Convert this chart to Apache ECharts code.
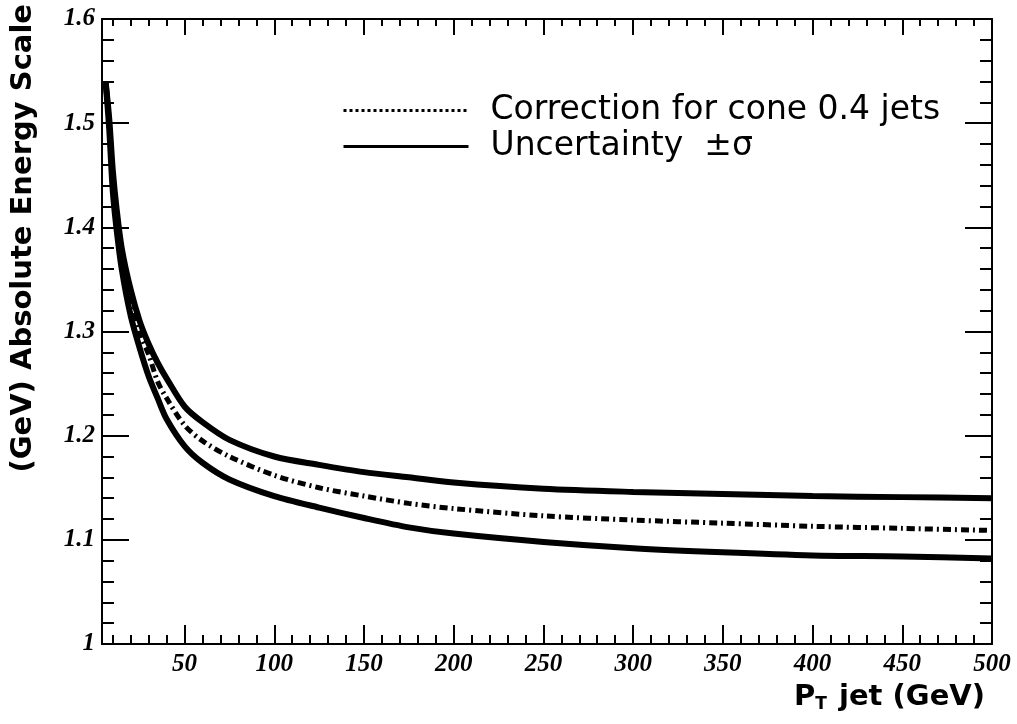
<!DOCTYPE html>
<html>
<head>
<meta charset="utf-8">
<script src="https://cdn.jsdelivr.net/npm/echarts@6/dist/echarts.min.js"></script>
<style>
html,body{margin:0;padding:0;background:#fff;}
#chart{width:1017px;height:724px;}
</style>
</head>
<body>
<div id="chart"></div>
<script>
// ---- data ----
const ptValues = [6, 8, 10, 12, 15, 20, 25, 30, 35, 40, 50, 60, 75, 100, 125, 150, 175, 200, 250, 300, 350, 400, 450, 500];
const upperValues = [1.540, 1.505, 1.455, 1.420, 1.380, 1.340, 1.310, 1.288, 1.270, 1.255, 1.228, 1.213, 1.196, 1.180, 1.172, 1.165, 1.160, 1.155, 1.149, 1.146, 1.144, 1.142, 1.141, 1.140];
const correctionValues = [1.540, 1.500, 1.445, 1.410, 1.370, 1.325, 1.298, 1.278, 1.252, 1.236, 1.210, 1.195, 1.180, 1.162, 1.150, 1.142, 1.135, 1.130, 1.123, 1.119, 1.116, 1.113, 1.111, 1.109];
const lowerValues = [1.540, 1.495, 1.435, 1.400, 1.360, 1.315, 1.284, 1.257, 1.236, 1.216, 1.190, 1.174, 1.158, 1.142, 1.131, 1.121, 1.112, 1.106, 1.098, 1.092, 1.088, 1.085, 1.084, 1.082];
const xMajorTicks = [50, 100, 150, 200, 250, 300, 350, 400, 450, 500];
const xMinorTicks = [10, 20, 30, 40, 60, 70, 80, 90, 110, 120, 130, 140, 160, 170, 180, 190, 210, 220, 230, 240, 260, 270, 280, 290, 310, 320, 330, 340, 360, 370, 380, 390, 410, 420, 430, 440, 460, 470, 480, 490];
const correctionName = 'Correction for cone 0.4 jets';
const uncertaintyName = 'Uncertainty  \u00b1\u03c3';

const zip = (xs, ys) => xs.map((x, i) => [x, ys[i]]);

const chart = echarts.init(document.getElementById('chart'), null, {renderer: 'canvas'});
const black = '#000';
const labelFont = {fontFamily: '"Liberation Serif", serif', fontStyle: 'italic', fontWeight: 'bold', fontSize: 25, color: black};
const titleFamily = '"DejaVu Sans", "Liberation Sans", sans-serif';
const hidden = {color: 'rgba(0,0,0,0)', borderWidth: 0, opacity: 0};

function xAxisDef(pos, ticks, len, showLine, showLabel) {
  return {
    type: 'value', gridIndex: 0, position: pos, min: 4, max: 500,
    axisLine: {show: showLine, onZero: false, lineStyle: {color: black, width: 2}},
    axisTick: {show: true, inside: true, length: len, customValues: ticks, lineStyle: {color: black, width: 2}},
    axisLabel: showLabel ? Object.assign({show: true, customValues: ticks, margin: 8}, labelFont) : {show: false},
    splitLine: {show: false}
  };
}
function yAxisDef(pos, showLabel) {
  return {
    type: 'value', gridIndex: 0, position: pos, min: 1, max: 1.6, interval: 0.1,
    axisLine: {show: true, onZero: false, lineStyle: {color: black, width: 2}},
    axisTick: {show: true, inside: true, length: 27, lineStyle: {color: black, width: 2}},
    minorTick: {show: true, splitNumber: 5, length: 12, lineStyle: {color: black, width: 2}},
    axisLabel: showLabel ? Object.assign({show: true, margin: 7, formatter: v => (Math.abs(v - 1) < 1e-9 ? '1' : v.toFixed(1))}, labelFont) : {show: false},
    splitLine: {show: false}
  };
}
function lineSeries(name, values, width, type) {
  return {
    name: name, type: 'line', xAxisIndex: 0, yAxisIndex: 0, data: zip(ptValues, values),
    smooth: 0.3, showSymbol: false, symbol: 'none',
    itemStyle: {color: black},
    lineStyle: {color: black, width: width, type: type}
  };
}

const option = {
  backgroundColor: '#fff',
  animation: false,
  grid: {left: 102, right: 25, top: 19, bottom: 80, containLabel: false},
  title: {
    text: '{a|P}{s|T}{a| jet (GeV)}',
    right: 27, bottom: 7,
    textStyle: {
      rich: {
        a: {fontFamily: titleFamily, fontWeight: 'bold', fontSize: 29, color: black},
        s: {fontFamily: titleFamily, fontWeight: 'bold', fontSize: 17, color: black, verticalAlign: 'bottom', padding: [15, 2, 0, 0]}
      }
    }
  },
  graphic: [{
    type: 'text',
    left: 9, top: 4,
    rotation: Math.PI / 2,
    originX: 0, originY: 0,
    style: {
      text: '(GeV) Absolute Energy Scale',
      fontFamily: titleFamily, fontWeight: 'bold', fontSize: 29, fill: black
    }
  }],
  legend: {
    orient: 'vertical', left: 337, top: 89, itemWidth: 125, itemHeight: 14, itemGap: 3, padding: 5,
    selectedMode: false,
    itemStyle: hidden,
    textStyle: {fontFamily: '"DejaVu Sans", sans-serif', fontSize: 33, color: black, padding: [0, 0, 0, 17]},
    data: [
      {name: correctionName, itemStyle: hidden, lineStyle: {type: 'dotted', width: 3, color: black}},
      {name: uncertaintyName, itemStyle: hidden, lineStyle: {type: 'solid', width: 3, color: black}}
    ]
  },
  xAxis: [
    xAxisDef('bottom', xMajorTicks, 19, true, true),
    xAxisDef('bottom', xMinorTicks, 9, false, false),
    xAxisDef('top', xMajorTicks, 16, true, false),
    xAxisDef('top', xMinorTicks, 7, false, false)
  ],
  yAxis: [yAxisDef('left', true), yAxisDef('right', false)],
  series: [
    lineSeries(uncertaintyName, upperValues, 6, 'solid'),
    lineSeries(correctionName, correctionValues, 5, [8, 4, 2, 4]),
    lineSeries(uncertaintyName, lowerValues, 6, 'solid')
  ]
};
chart.setOption(option);
</script>
</body>
</html>
